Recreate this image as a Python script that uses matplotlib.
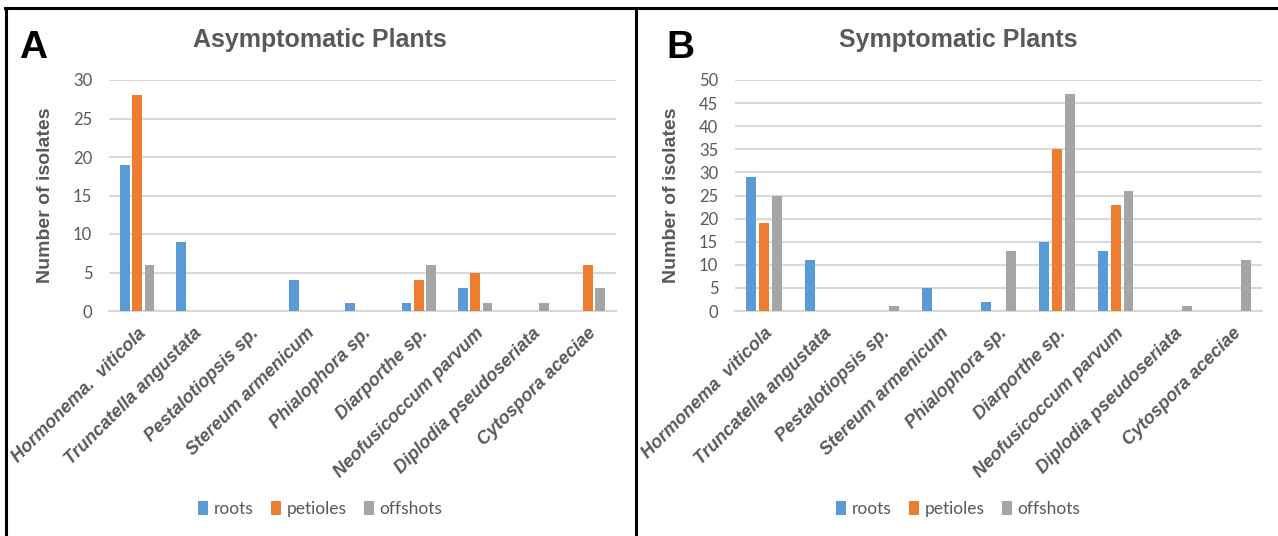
import numpy as np
import matplotlib.pyplot as plt
from matplotlib.lines import Line2D

categories_a = ["Hormonema.  viticola", "Truncatella angustata", "Pestalotiopsis sp.",
                "Stereum armenicum", "Phialophora sp.", "Diarporthe sp.",
                "Neofusicoccum parvum", "Diplodia pseudoseriata", "Cytospora aceciae"]
categories_b = ["Hormonema  viticola"] + categories_a[1:]

roots_a = [19, 9, 0, 4, 1, 1, 3, 0, 0]
petioles_a = [28, 0, 0, 0, 0, 4, 5, 0, 6]
offshots_a = [6, 0, 0, 0, 0, 6, 1, 1, 3]

roots_b = [29, 11, 0, 5, 2, 15, 13, 0, 0]
petioles_b = [19, 0, 0, 0, 0, 35, 23, 0, 0]
offshots_b = [25, 0, 1, 0, 13, 47, 26, 1, 11]

series_names = ["roots", "petioles", "offshots"]
colors = ["#5B9BD5", "#ED7D31", "#A5A5A5"]
text_gray = "#595959"

W, H = 1278, 536
fig = plt.figure(figsize=(W / 100, H / 100), dpi=100)


def px_axes(x0, y0, x1, y1):
    # pixel box (top-left origin) -> figure axes
    return fig.add_axes([x0 / W, 1 - y1 / H, (x1 - x0) / W, (y1 - y0) / H])


def panel(ax, cats, data, ymax, step, title, letter, cx, letter_x):
    x = np.arange(len(cats))
    pitch, width = 0.22, 0.17
    for i, vals in enumerate(data):
        ax.bar(x + (i - 1) * pitch, vals, width, color=colors[i],
               label=series_names[i], zorder=3)
    ax.set_xlim(-0.5, len(cats) - 0.5)
    ax.set_ylim(0, ymax)
    ax.set_yticks(np.arange(0, ymax + 1, step))
    ax.grid(axis="y", color="#D9D9D9", linewidth=1.5, zorder=0)
    for s in ["top", "right", "left"]:
        ax.spines[s].set_visible(False)
    ax.spines["bottom"].set_color("#D9D9D9")
    ax.spines["bottom"].set_linewidth(1.5)
    ax.tick_params(length=0)
    ax.tick_params(axis="y", pad=12, labelsize=12, labelcolor=text_gray)
    for t in ax.get_yticklabels():
        t.set_family("Lato")
    ax.set_xticks(x)
    ax.set_xticklabels(cats, rotation=45, ha="right", va="top",
                       rotation_mode="anchor", fontsize=13, fontweight="bold",
                       fontstyle="italic", color=text_gray,
                       family="Liberation Sans")
    ax.tick_params(axis="x", pad=10)
    ax.set_ylabel("Number of isolates", fontsize=14, fontweight="bold",
                  color=text_gray, family="Liberation Sans", labelpad=14)
    fig.text(cx / W, 1 - 40 / H, title, ha="center", va="center",
             fontsize=18, fontweight="bold", color=text_gray,
             family="Liberation Sans")
    fig.text(letter_x / W, 1 - 48 / H, letter, ha="center", va="center",
             fontsize=28, fontweight="bold", color="black",
             family="Liberation Sans")
    fig.legend(*ax.get_legend_handles_labels(), loc="center",
               bbox_to_anchor=(cx / W, 1 - 509 / H), ncol=3, frameon=False,
               handlelength=0.6, handleheight=0.9, handletextpad=0.3,
               columnspacing=1.0, prop={"family": "Lato", "size": 12.5},
               labelcolor=text_gray)


ax_a = px_axes(109, 80, 616, 311)
panel(ax_a, categories_a, [roots_a, petioles_a, offshots_a], 30, 5,
      "Asymptomatic Plants", "A", 320, 33)

ax_b = px_axes(735, 80, 1262, 311)
panel(ax_b, categories_b, [roots_b, petioles_b, offshots_b], 50, 5,
      "Symptomatic Plants", "B", 958, 680)

# panel frames
for xs, ys in [([5 / W, 1], [1 - 8 / H, 1 - 8 / H]),
               ([6 / W, 6 / W], [0, 1 - 8 / H]),
               ([636 / W, 636 / W], [0, 1 - 8 / H])]:
    fig.add_artist(Line2D(xs, ys, color="black", linewidth=2.2))

fig.savefig("out.png", dpi=100)
